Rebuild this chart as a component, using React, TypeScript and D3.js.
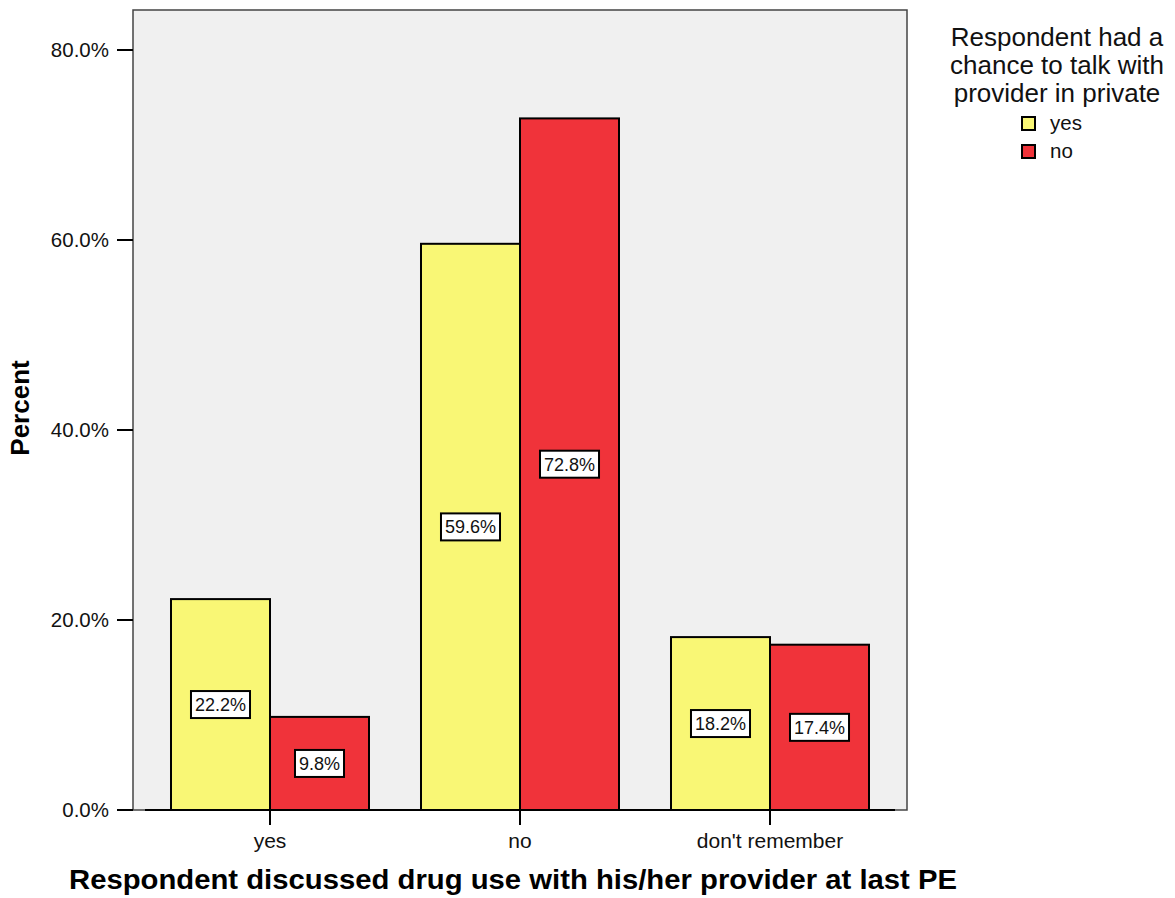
import React from "react";
import * as d3 from "d3";

const categories = ["yes", "no", "don't remember"];
const seriesNames = ["yes", "no"];
const yesValues = [22.2, 59.6, 18.2];
const noValues = [9.8, 72.8, 17.4];
const yTicks = [0, 20, 40, 60, 80];
const colors = ["#F9F775", "#F0333A"];
const legendTitle = ["Respondent had a", "chance to talk with", "provider in private"];
const xTitle = "Respondent discussed drug use with his/her provider at last PE";
const yTitle = "Percent";

const W = 1175, H = 898;
const plot = { left: 133, right: 907, top: 10, bottom: 810 };
const font = "'Liberation Sans', Arial, sans-serif";

function textWidth(s: string, size: number) {
  let w = 0;
  for (const ch of s) w += ch === "." ? 0.278 : ch === "%" ? 0.889 : 0.556;
  return w * size;
}

export default function App() {
  const x0 = d3.scaleBand<string>().domain(categories).range([145, 895]).padding(0);
  const x1 = d3.scaleBand<string>().domain(seriesNames).range([0, x0.bandwidth()]).paddingInner(0).paddingOuter(0.2626);
  const y = d3.scaleLinear().domain([0, 80]).range([plot.bottom, 50]);
  const series = [yesValues, noValues];

  return (
    <svg width={W} height={H} style={{ position: "absolute", left: 0, top: 0, fontFamily: font }}>
      <rect x={0} y={0} width={W} height={H} fill="#fff" />
      <rect x={plot.left} y={plot.top} width={plot.right - plot.left} height={plot.bottom - plot.top} fill="#F0F0F0" stroke="#444" strokeWidth={1.5} />
      {yTicks.map((t) => (
        <g key={t}>
          <line x1={117} x2={plot.left} y1={y(t)} y2={y(t)} stroke="#000" strokeWidth={2} />
          <text x={109} y={y(t)} dy="0.35em" textAnchor="end" fontSize={20.5} fill="#111">{d3.format(".1f")(t) + "%"}</text>
        </g>
      ))}
      <line x1={145} x2={895} y1={plot.bottom} y2={plot.bottom} stroke="#000" strokeWidth={2} />
      {categories.map((c, i) => (
        <g key={c}>
          {series.map((vals, s) => {
            const bx = (x0(c) as number) + (x1(seriesNames[s]) as number);
            const bw = x1.bandwidth();
            const top = y(vals[i]);
            return (
              <rect key={s} x={bx} y={top} width={bw} height={plot.bottom - top} fill={colors[s]} stroke="#000" strokeWidth={2} />
            );
          })}
          <line x1={(x0(c) as number) + x0.bandwidth() / 2} x2={(x0(c) as number) + x0.bandwidth() / 2} y1={plot.bottom} y2={825} stroke="#000" strokeWidth={2} />
          <text x={(x0(c) as number) + x0.bandwidth() / 2} y={848} textAnchor="middle" fontSize={21} fill="#111">{c}</text>
        </g>
      ))}
      {categories.map((c, i) =>
        series.map((vals, s) => {
          const cx = (x0(c) as number) + (x1(seriesNames[s]) as number) + x1.bandwidth() / 2;
          const cy = (y(vals[i]) + plot.bottom) / 2;
          const label = d3.format(".1f")(vals[i]) + "%";
          const bw = textWidth(label, 18) + 8;
          return (
            <g key={c + s}>
              <rect x={cx - bw / 2} y={cy - 13.5} width={bw} height={27} fill="#fff" stroke="#000" strokeWidth={2} />
              <text x={cx} y={cy} dy="0.36em" textAnchor="middle" fontSize={18} fill="#111">{label}</text>
            </g>
          );
        })
      )}
      <text transform={`translate(29,408) rotate(-90)`} textAnchor="middle" fontSize={26} fontWeight="bold" fill="#000">{yTitle}</text>
      <text x={513} y={889} textAnchor="middle" fontSize={28} fontWeight="bold" fill="#000" textLength={888} lengthAdjust="spacingAndGlyphs">{xTitle}</text>
      {legendTitle.map((l, i) => (
        <text key={l} x={1057} y={46 + i * 28} textAnchor="middle" fontSize={26} fill="#111">{l}</text>
      ))}
      {seriesNames.map((n, i) => (
        <g key={n}>
          <rect x={1022} y={117 + i * 28} width={13} height={13} fill={colors[i]} stroke="#000" strokeWidth={2} />
          <text x={1050} y={130 + i * 28} fontSize={20.5} fill="#111">{n}</text>
        </g>
      ))}
    </svg>
  );
}
